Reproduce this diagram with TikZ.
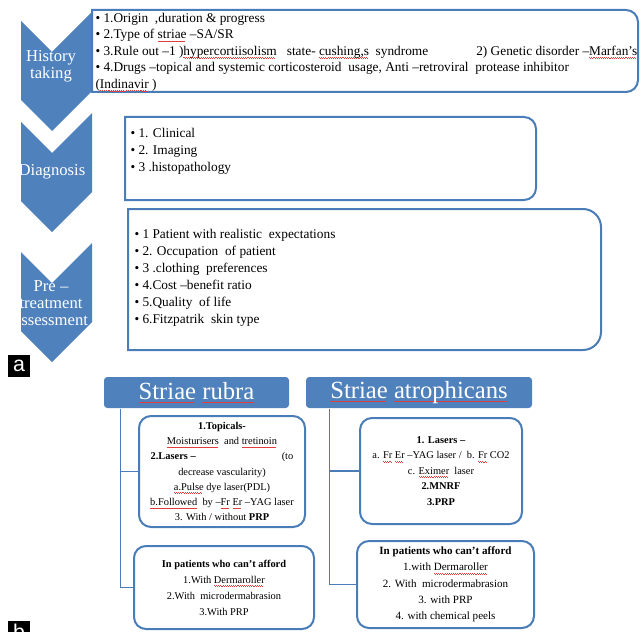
\documentclass[tikz,border=0pt]{standalone}
\usepackage{fontspec}
\setmainfont{Liberation Serif}
\setsansfont{Liberation Sans}

\definecolor{chevblue}{RGB}{79,129,189}
\definecolor{lineblue}{RGB}{74,124,184}
\definecolor{spellred}{RGB}{226,60,60}

% red spell-check wave under a word
\newsavebox{\spellbox}
\newcommand{\spell}[1]{\leavevmode\sbox{\spellbox}{#1}\rlap{\textcolor{spellred}{\lower2.4pt\hbox to\wd\spellbox{\leaders\hbox to 1.6pt{\raise0.45pt\hbox{\vrule width0.8pt height0.4pt}\vrule width0.8pt height0.4pt}\hfill}}}\usebox{\spellbox}}

% box with square left corners and rounded right corners
\newcommand{\rbox}[5]{\draw[listbox] (#1,#2) -- ({#3-#5},#2) .. controls ({#3-0.45*#5},#2) and (#3,{#2+0.45*#5}) .. (#3,{#2+#5}) -- (#3,{#4-#5}) .. controls (#3,{#4-0.45*#5}) and ({#3-0.45*#5},#4) .. ({#3-#5},#4) -- (#1,#4) -- cycle;}

\tikzset{every picture/.style={line width=0.75pt}}

\begin{document}
\begin{tikzpicture}[x=0.75pt,y=0.75pt,yscale=-1,xscale=1,
  chev/.style={fill=chevblue},
  chevtext/.style={text=white,font=\fontsize{12.5}{13}\selectfont,align=center,inner sep=0pt},
  listbox/.style={draw=lineblue,line width=1.5pt},
  listtext/.style={anchor=north west,inner sep=0pt,align=left},
  head/.style={fill=chevblue,rounded corners=2.5pt,text=white,font=\fontsize{18.5}{20}\selectfont,minimum height=23.25pt,inner sep=0pt},
  treat/.style={draw=lineblue,line width=1.5pt,rounded corners=9pt,align=center,inner sep=0pt},
  link/.style={draw=lineblue,line width=1.2pt},
  tag/.style={fill=black,text=white,font=\sffamily\fontsize{16}{16}\selectfont,inner sep=0pt,minimum size=16pt}]
\path[use as bounding box] (0,0) rectangle (641,631);
\clip (0,0) rectangle (641,631);

\begin{scope}
% chevrons are cut at their left side
\clip (21,0) rectangle (100,400);
%Shape: Chevron [History taking]
\fill[chev] (12,12) -- (52,52) -- (92,12) -- (92,91) -- (52,131) -- (12,91) -- cycle;
% Text Node
\node[chevtext] (histlbl) at (51,66) {History\\taking};
%Shape: Chevron [Diagnosis]
\fill[chev] (12,113) -- (52,153) -- (92,113) -- (92,192) -- (52,232) -- (12,192) -- cycle;
% Text Node
\node[chevtext] (diaglbl) at (52,172) {Diagnosis};
%Shape: Chevron [Pre-treatment]
\fill[chev] (12,243) -- (52,283) -- (92,243) -- (92,322) -- (52,362) -- (12,322) -- cycle;
% Text Node
\node[chevtext] (pretlbl) at (51,303) {Pre –\\treatment\\assessment};
\end{scope}

%Shape: Box [history]
\rbox{92}{10}{638}{92}{12}
% Text Node
\node[listtext,font=\fontsize{10}{12.4}\selectfont] (histlist) at (95,12.5) {\textbullet\ 1.Origin\ \ ,duration \& progress\\
\textbullet\ 2.Type of \spell{striae} –SA/SR\\
\textbullet\ 3.Rule out –1 )\spell{hypercortiisolism}\ \ \ state- \spell{cushing,s}\ \ syndrome\hspace{36pt}2) Genetic disorder –\spell{Marfan’s}\\
\textbullet\ 4.Drugs –topical and systemic corticosteroid\ \ usage, Anti –retroviral\ \ protease inhibitor\\
(\spell{Indinavir} )};

%Shape: Box [diagnosis]
\rbox{125}{117}{536}{200}{12}
% Text Node
\node[listtext,font=\fontsize{10}{12.75}\selectfont] (diaglist) at (130,128) {\textbullet\ 1. Clinical\\
\textbullet\ 2. Imaging\\
\textbullet\ 3 .histopathology};

%Shape: Box [pre-treatment]
\rbox{128}{209}{601}{350}{18}
% Text Node
\node[listtext,font=\fontsize{10}{12.75}\selectfont] (pretlist) at (134,229) {\textbullet\ 1 Patient with realistic\ \ expectations\\
\textbullet\ 2. Occupation\ \ of patient\\
\textbullet\ 3 .clothing\ \ preferences\\
\textbullet\ 4.Cost –benefit ratio\\
\textbullet\ 5.Quality\ \ of life\\
\textbullet\ 6.Fitzpatrik\ \ skin type};

% Text Node
\node[tag] (atag) at (19,366) {a};

%Headers
\node[head,minimum width=138.75pt] (ruhead) at (196.5,392.5) {\spell{Striae} \spell{rubra}};
\node[head,minimum width=169.5pt] (athead) at (419,392.5) {\spell{Striae} \spell{atrophicans}};

%Treatment boxes
\node[treat,minimum width=124.5pt,minimum height=83.25pt,font=\fontsize{7.8}{11.4}\selectfont] (rutreat) at (222,471.5) {\textbf{1.Topicals-}\\
\spell{Moisturisers}\ \ and \spell{tretinoin}\\
\makebox[107pt][l]{\textbf{2.Lasers –}\hfill(to}\\
decrease vascularity)\\
\spell{a.Pulse} dye laser(PDL)\\
\spell{b.Followed}\ \ by –\spell{Fr} \spell{Er} –YAG laser\\
3. With / without \textbf{PRP}};
\node[treat,minimum width=135pt,minimum height=62.25pt,font=\fontsize{7.8}{12}\selectfont] (rucheap) at (224,587.5) {\textbf{In patients who can’t afford}\\
1.With \spell{Dermaroller}\\
2.With\ \ microdermabrasion\\
3.With PRP};
\node[treat,minimum width=121.5pt,minimum height=79.5pt,font=\fontsize{7.8}{11.6}\selectfont] (attreat) at (441,471) {\textbf{1. Lasers –}\\
a. \spell{Fr} \spell{Er} –YAG laser /\ \ b. \spell{Fr} CO2\\
c. \spell{Eximer}\ \ laser\\
\textbf{2.MNRF}\\
\textbf{3.PRP}};
\node[treat,minimum width=132.75pt,minimum height=65.25pt,font=\fontsize{8.3}{12.2}\selectfont] (atcheap) at (445.5,584.5) {\textbf{In patients who can’t afford}\\
1.with \spell{Dermaroller}\\
2. With\ \ microdermabrasion\\
3. with PRP\\
4. with chemical peels};

%Connectors
\draw[link] ([xshift=12.75pt]ruhead.south west) |- (rutreat.west);
\draw[link] ([xshift=12.75pt]ruhead.south west) |- (rucheap.west);
\draw[link] ([xshift=18pt]athead.south west) |- (attreat.west);
\draw[link] ([xshift=18pt]athead.south west) |- (atcheap.west);

% Text Node
\node[tag] (btag) at (19,632) {b};

\end{tikzpicture}
\end{document}
